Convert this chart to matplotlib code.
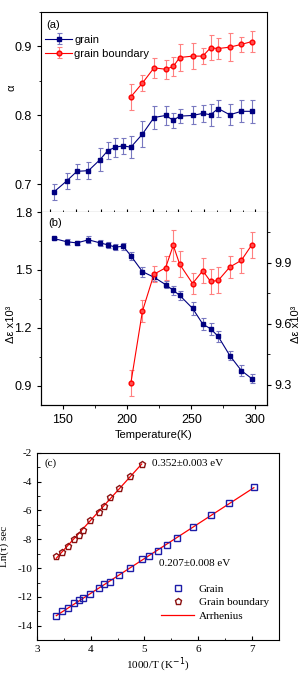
import numpy as np
import matplotlib
matplotlib.use("Agg")
import matplotlib.pyplot as plt
from matplotlib.ticker import MultipleLocator, NullFormatter

plt.rcParams["axes.unicode_minus"] = False

# panel (a)/(b): temperature series
temp = [143, 153, 161, 170, 179, 185, 191, 197, 203, 212, 221, 230, 236, 241, 251, 259, 265, 271, 280, 289, 297]
alpha_grain = [0.689, 0.705, 0.719, 0.720, 0.736, 0.749, 0.754, 0.756, 0.754, 0.773, 0.797,
               0.800, 0.793, 0.799, 0.800, 0.803, 0.801, 0.810, 0.801, 0.806, 0.806]
alpha_grain_err = [0.011, 0.012, 0.011, 0.012, 0.017, 0.012, 0.014, 0.012, 0.016, 0.019, 0.016,
                   0.014, 0.011, 0.010, 0.013, 0.012, 0.016, 0.012, 0.015, 0.016, 0.017]
temp_gb = [203, 212, 221, 230, 236, 241, 251, 259, 265, 271, 280, 289, 297]
alpha_gb = [0.827, 0.847, 0.869, 0.867, 0.871, 0.884, 0.886, 0.886, 0.898, 0.897, 0.899, 0.903, 0.907]
alpha_gb_err = [0.019, 0.011, 0.014, 0.014, 0.014, 0.019, 0.019, 0.012, 0.018, 0.015, 0.020, 0.011, 0.015]

deps_grain = [1.663, 1.646, 1.640, 1.656, 1.640, 1.630, 1.618, 1.623, 1.573, 1.491, 1.462,
              1.424, 1.394, 1.368, 1.301, 1.219, 1.195, 1.155, 1.056, 0.978, 0.937]
deps_grain_err = [0.010, 0.015, 0.012, 0.018, 0.015, 0.015, 0.015, 0.018, 0.020, 0.026, 0.020,
                  0.020, 0.022, 0.025, 0.033, 0.030, 0.030, 0.030, 0.022, 0.030, 0.025]
deps_gb = [9.308, 9.662, 9.844, 9.875, 9.986, 9.893, 9.798, 9.861, 9.808, 9.813, 9.879, 9.912, 9.987]
deps_gb_err = [0.062, 0.055, 0.040, 0.060, 0.077, 0.063, 0.050, 0.062, 0.060, 0.064, 0.054, 0.062, 0.064]

# panel (c): Arrhenius plot
inv_t_grain = [3.359, 3.458, 3.576, 3.687, 3.774, 3.861, 3.991, 4.146, 4.251, 4.362, 4.536,
               4.734, 4.950, 5.093, 5.254, 5.427, 5.613, 5.910, 6.238, 6.567, 7.037]
lntau_grain = [-13.33, -12.98, -12.77, -12.45, -12.24, -12.08, -11.76, -11.41, -11.13, -10.95, -10.51,
               -10.02, -9.40, -9.16, -8.82, -8.38, -7.89, -7.13, -6.30, -5.49, -4.38]
inv_t_gb = [3.359, 3.458, 3.576, 3.687, 3.774, 3.861, 3.991, 4.146, 4.251, 4.362, 4.536, 4.734, 4.950]
lntau_gb = [-9.19, -8.87, -8.45, -7.99, -7.73, -7.32, -6.69, -6.14, -5.70, -5.10, -4.45, -3.62, -2.79]

NAVY = "#000080"
NAVY_ERR = "#7878c0"
RED = "#ff0000"
RED_ERR = "#ff8080"
SANS = "Liberation Sans"
SERIF = "Liberation Serif"

fig = plt.figure(figsize=(3.08, 6.84), dpi=100)
ax_a = fig.add_axes([0.133, 0.690, 0.734, 0.2925])
ax_b = fig.add_axes([0.133, 0.408, 0.734, 0.282])
ax_b2 = ax_b.twinx()
ax_c = fig.add_axes([0.120, 0.064, 0.785, 0.274])

# (a) alpha
ax_a.errorbar(temp, alpha_grain, yerr=alpha_grain_err, color=NAVY, ecolor=NAVY_ERR, elinewidth=0.8,
              capsize=1.8, capthick=0.8, lw=0.8, marker="s", ms=3.2, label="grain")
ax_a.errorbar(temp_gb, alpha_gb, yerr=alpha_gb_err, color=RED, ecolor=RED_ERR, elinewidth=0.8,
              capsize=1.8, capthick=0.8, lw=0.8, marker="o", ms=3.4, mfc="#ff5050", mec=RED, label="grain boundary")
ax_a.set_xlim(133, 309)
ax_a.set_ylim(0.66, 0.95)
ax_a.yaxis.set_major_locator(MultipleLocator(0.1))
ax_a.yaxis.set_minor_locator(MultipleLocator(0.05))
ax_a.xaxis.set_major_locator(MultipleLocator(20))
ax_a.xaxis.set_minor_locator(MultipleLocator(10))
ax_a.xaxis.set_major_formatter(NullFormatter())
ax_a.tick_params(axis="x", which="both", direction="in", length=2.5)
ax_a.tick_params(axis="x", which="minor", length=1.5)
ax_a.tick_params(axis="y", which="major", direction="out", length=3, labelsize=9)
ax_a.tick_params(axis="y", which="minor", direction="out", length=1.8)
for lab in ax_a.get_yticklabels():
    lab.set_fontfamily(SANS)
ax_a.set_ylabel("α", fontsize=8, family=SANS)
ax_a.yaxis.set_label_coords(-0.11, 0.62)
ax_a.text(0.052, 0.935, "(a)", transform=ax_a.transAxes, fontsize=8, family=SANS, ha="center", va="center")
ax_a.legend(loc="upper left", bbox_to_anchor=(-0.01, 0.92), frameon=False, prop={"family": SANS, "size": 8},
            handlelength=2.4, handletextpad=0.2, labelspacing=0.35, borderaxespad=0.2)

# (b) delta epsilon
ax_b.errorbar(temp, deps_grain, yerr=deps_grain_err, color=NAVY, ecolor=NAVY_ERR, elinewidth=0.8,
              capsize=1.8, capthick=0.8, lw=0.8, marker="s", ms=3.2)
ax_b2.errorbar(temp_gb, deps_gb, yerr=deps_gb_err, color=RED, ecolor=RED_ERR, elinewidth=0.8,
               capsize=1.8, capthick=0.8, lw=0.8, marker="o", ms=3.4, mfc="#ff5050", mec=RED)
ax_b.set_xlim(133, 309)
ax_b.set_ylim(0.8, 1.8)
ax_b2.set_ylim(9.2, 10.15)
ax_b.xaxis.set_major_locator(MultipleLocator(50))
ax_b.xaxis.set_minor_locator(MultipleLocator(25))
ax_b.yaxis.set_minor_locator(MultipleLocator(0.15))
ax_b2.yaxis.set_minor_locator(MultipleLocator(0.15))
ax_b.set_yticks([0.9, 1.2, 1.5, 1.8])
ax_b.set_yticklabels(["0.9", "1.2", "1.5", "1.8"])
ax_b2.set_yticks([9.3, 9.6, 9.9])
ax_b2.set_yticklabels(["9.3", "9.6", "9.9"])
for a in (ax_b, ax_b2):
    a.tick_params(which="major", direction="out", length=3, labelsize=9)
    a.tick_params(which="minor", direction="out", length=1.8)
    for lab in a.get_yticklabels() + a.get_xticklabels():
        lab.set_fontfamily(SANS)
ax_b2.tick_params(axis="y", pad=2)
ax_b.spines["top"].set_visible(False)
ax_b2.spines["top"].set_visible(False)
ax_b.set_ylabel("Δε x10³", fontsize=8, family=SANS)
ax_b.yaxis.set_label_coords(-0.11, 0.42)
ax_b2.set_ylabel("Δε x10³", fontsize=8, family=SANS)
ax_b2.yaxis.set_label_coords(1.105, 0.42)
ax_b.set_xlabel("Temperature(K)", fontsize=8, family=SANS, labelpad=3)
ax_b.text(0.062, 0.945, "(b)", transform=ax_b.transAxes, fontsize=8, family=SANS, ha="center", va="center")

# (c) Arrhenius
fit_g = np.polyfit(inv_t_grain, lntau_grain, 1)
fit_gb = np.polyfit(inv_t_gb, lntau_gb, 1)
xg = np.array([min(inv_t_grain), max(inv_t_grain)])
xgb = np.array([min(inv_t_gb), max(inv_t_gb)])
ax_c.plot(xg, np.polyval(fit_g, xg), color=RED, lw=0.9, zorder=1, label="Arrhenius")
ax_c.plot(xgb, np.polyval(fit_gb, xgb), color=RED, lw=0.9, zorder=1)
ax_c.plot(inv_t_grain, lntau_grain, ls="none", marker="s", ms=3.8, mfc="none", mec="#1c1ca8", mew=1.0,
          zorder=2, label="Grain")
ax_c.plot(inv_t_gb, lntau_gb, ls="none", marker="p", ms=4.6, mfc="none", mec="#8b1010", mew=1.0,
          zorder=2, label="Grain boundary")
ax_c.set_xlim(3, 7.5)
ax_c.set_ylim(-15, -2)
ax_c.xaxis.set_major_locator(MultipleLocator(1))
ax_c.xaxis.set_minor_locator(MultipleLocator(0.5))
ax_c.yaxis.set_major_locator(MultipleLocator(2))
ax_c.yaxis.set_minor_locator(MultipleLocator(1))
ax_c.tick_params(which="major", direction="in", length=3, labelsize=8)
ax_c.tick_params(which="minor", direction="in", length=1.8)
for lab in ax_c.get_yticklabels() + ax_c.get_xticklabels():
    lab.set_fontfamily(SERIF)
ax_c.set_xlabel(r"1000/T (K$^{-1}$)", fontsize=8, family=SERIF, labelpad=1)
ax_c.set_ylabel("Ln(τ) sec", fontsize=8, family=SERIF)
ax_c.yaxis.set_label_coords(-0.115, 0.5)
ax_c.text(3.25, -2.74, "(c)", fontsize=8, family=SERIF, ha="center", va="center")
ax_c.text(5.15, -2.74, "0.352±0.003 eV", fontsize=8, family=SERIF, ha="left", va="center")
ax_c.text(5.28, -9.70, "0.207±0.008 eV", fontsize=8, family=SERIF, ha="left", va="center")
h, l = ax_c.get_legend_handles_labels()
order = [l.index("Grain"), l.index("Grain boundary"), l.index("Arrhenius")]
ax_c.legend([h[i] for i in order], [l[i] for i in order], loc="lower right", bbox_to_anchor=(1.0, 0.05),
            frameon=False, prop={"family": SERIF, "size": 8}, handlelength=3.0, handletextpad=0.4,
            labelspacing=0.35)

fig.savefig("out.png", dpi=100)
plt.close(fig)
